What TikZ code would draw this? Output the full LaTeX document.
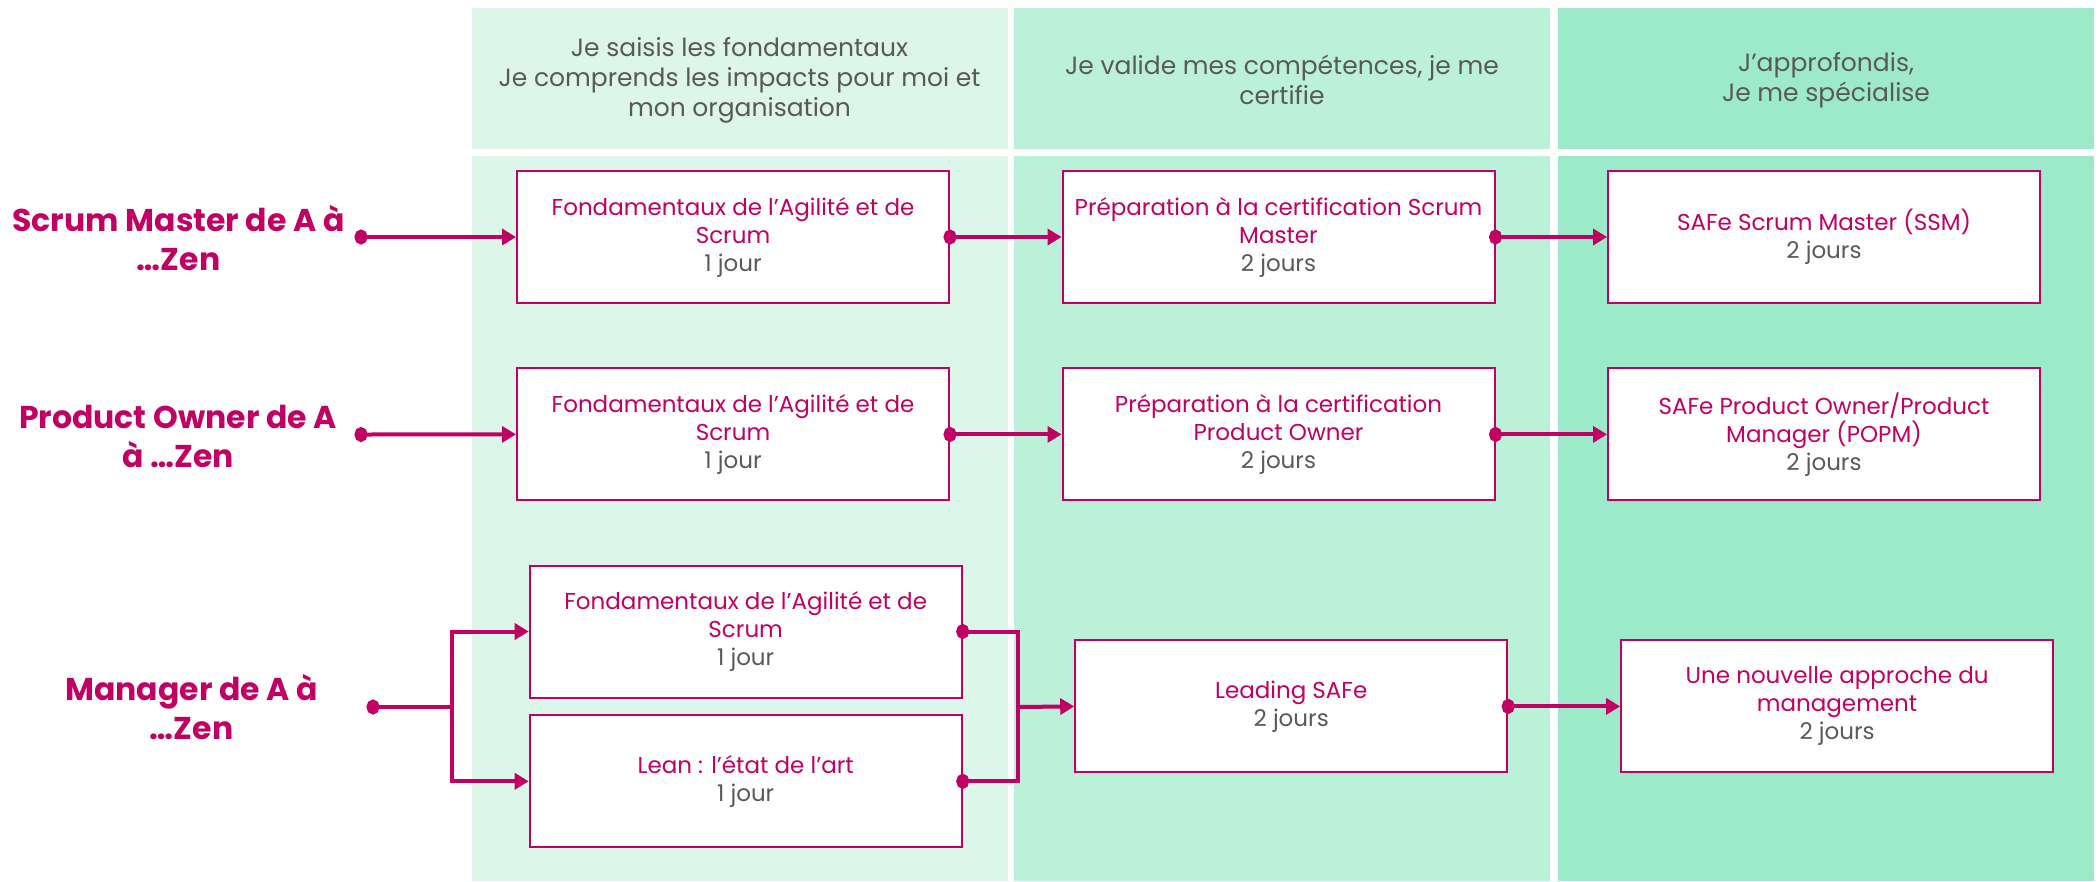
\documentclass[tikz,border=0pt]{standalone}
\usepackage{fontspec}
\setmainfont{Poppins}
\usepackage{tikz}
\usetikzlibrary{arrows.meta,shapes}
\definecolor{rose}{RGB}{192,0,98}
\definecolor{txtgrey}{RGB}{89,89,89}
\definecolor{colA}{RGB}{220,246,234}
\definecolor{colB}{RGB}{187,240,217}
\definecolor{colC}{RGB}{156,234,201}
\tikzstyle{course}=[rectangle,draw=rose,line width=2pt,fill=white,text=rose,minimum width=432pt,minimum height=132pt,inner sep=0pt,align=center,font=\fontsize{23}{28}\selectfont]
\tikzstyle{track}=[text=rose,align=center,font=\bfseries\fontsize{31.5}{39}\selectfont]
\tikzstyle{phase}=[text=txtgrey,align=center,font=\fontsize{25}{30}\selectfont]
\tikzstyle{link}=[draw=rose,line width=4pt]
\tikzstyle{dotstart}=[{Circle[length=13pt,width=15pt]}-,shorten <=-6.5pt]
\tikzstyle{dotboth}=[{Circle[length=13pt,width=15pt]}-{Circle[length=13pt,width=15pt]},shorten <=-6.5pt,shorten >=-6.5pt]
\tikzstyle{flow}=[{Circle[length=13pt,width=15pt]}-{Triangle[length=14pt,width=16pt]},shorten <=-6.5pt]
\tikzstyle{headin}=[-{Triangle[length=14pt,width=16pt]}]
\tikzstyle{fork}=[{Triangle[length=14pt,width=16pt]}-{Triangle[length=14pt,width=16pt]}]

\begin{document}
\begin{tikzpicture}[x=1pt,y=-1pt]
    \useasboundingbox (0,0) rectangle (2098,881);
    % The three columns, header and body
    \foreach \xa/\xb/\col in {471.6/1007.5/colA, 1014/1550/colB, 1558/2094/colC} {
        \fill[\col] (\xa,8) rectangle (\xb,149);
        \fill[\col] (\xa,156) rectangle (\xb,881);
    }
    \node[phase] (ph_1) at (739.5,80) {Je saisis les fondamentaux\\Je comprends les impacts pour moi et\\mon organisation};
    \node[phase] (ph_2) at (1282,80) {Je valide mes compétences, je me\\certifie};
    \node[phase] (ph_3) at (1826,80) {J’approfondis,\\Je me spécialise};

    % The tracks on the left
    \foreach \pos/\name/\txt in {{(178.6,238.5)}/sm/{Scrum Master de A à\\…Zen}, {(178,436)}/po/{Product Owner de A\\à …Zen}, {(191.6,707.5)}/mg/{Manager de A à\\…Zen}}
        \node[track] (\name) at \pos {\txt};
    \coordinate (sm_o) at (361,237);
    \coordinate (po_o) at (361,434.5);
    \coordinate (mg_o) at (373,707);
    \coordinate (mg_fork) at (451.6,707);
    \coordinate (mg_join) at (1018,707);

    % Then the courses
    \foreach \pos/\name/\title/\days in {
        {(733,237)}/sm_1/{Fondamentaux de l’Agilité et de\\Scrum}/{1 jour},
        {(1278.5,237)}/sm_2/{Préparation à la certification Scrum\\Master}/{2 jours},
        {(1824,237)}/sm_3/{SAFe Scrum Master (SSM)}/{2 jours},
        {(733,434.4)}/po_1/{Fondamentaux de l’Agilité et de\\Scrum}/{1 jour},
        {(1278.5,434.4)}/po_2/{Préparation à la certification\\Product Owner}/{2 jours},
        {(1824,434.4)}/po_3/{SAFe Product Owner/Product\\Manager (POPM)}/{2 jours},
        {(745.7,631.5)}/mg_1/{Fondamentaux de l’Agilité et de\\Scrum}/{1 jour},
        {(745.7,781.3)}/mg_2/{Lean : l’état de l’art}/{1 jour},
        {(1291.2,706.4)}/mg_3/{Leading SAFe}/{2 jours},
        {(1837.1,706.4)}/mg_4/{Une nouvelle approche du\\management}/{2 jours}}
        \node[course] (\name) at \pos {\title\\\textcolor{txtgrey}{\days}};

    % Connect the courses
    \foreach \source/\dest in {sm_o/sm_1.west, sm_1.east/sm_2.west, sm_2.east/sm_3.west, po_o/po_1.west, po_1.east/po_2.west, po_2.east/po_3.west, mg_3.east/mg_4.west}
        \path[link,flow] (\source) -- (\dest);
    \path[link,dotstart] (mg_o) -- (mg_fork);
    \path[link,fork] (mg_1.west) -| (mg_fork) |- (mg_2.west);
    \path[link,dotboth] (mg_1.east) -| (mg_join) |- (mg_2.east);
    \path[link,headin] (mg_join) -- (mg_3.west);
\end{tikzpicture}
\end{document}
